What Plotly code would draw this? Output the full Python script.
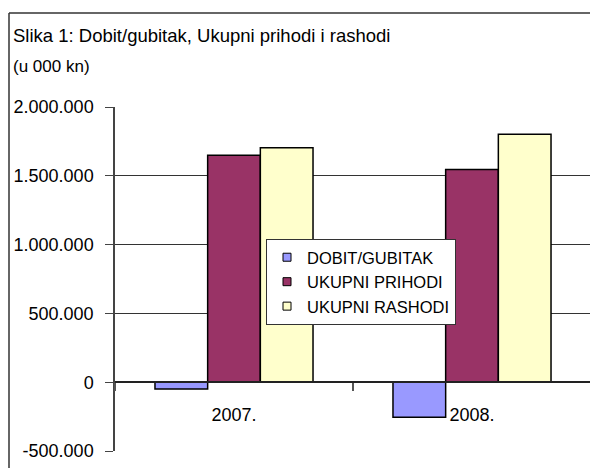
import plotly.graph_objects as go

categories = ["2007.", "2008."]
dobit = [-50000, -255000]
prihodi = [1650000, 1545000]
rashodi = [1703000, 1802000]
series_names = ["DOBIT/GUBITAK", "UKUPNI PRIHODI", "UKUPNI RASHODI"]
colors = ["#9999FF", "#993366", "#FFFFCC"]
y_ticks = [-500000, 0, 500000, 1000000, 1500000, 2000000]
y_tick_labels = ["-500.000", "0", "500.000", "1.000.000", "1.500.000", "2.000.000"]
title_text = "Slika 1: Dobit/gubitak, Ukupni prihodi i rashodi"
unit_text = "(u 000 kn)"

FONT = "Liberation Sans, Arial, sans-serif"

W, H = 590, 468
L, R, T, B = 115, 0, 107, 17
pw, ph = W - L - R, H - T - B

def px_x(x):
    return (x - L) / pw

def px_y(y):
    return (H - B - y) / ph

fig = go.Figure()
for name, vals, col in zip(series_names, [dobit, prihodi, rashodi], colors):
    fig.add_trace(go.Bar(
        x=categories, y=vals, name=name,
        marker=dict(color=col, line=dict(color="black", width=1.5)),
        showlegend=False,
    ))
for name, col in zip(series_names, colors):
    fig.add_trace(go.Scatter(
        x=[None], y=[None], mode="markers", name=name,
        marker=dict(symbol="square", size=8, color=col,
                    line=dict(color="black", width=1)),
    ))

fig.update_layout(
    width=W, height=H,
    margin=dict(l=L, r=R, t=T, b=B, pad=0),
    paper_bgcolor="white", plot_bgcolor="white",
    barmode="group", bargap=0.336, bargroupgap=0,
    font=dict(family=FONT, size=18, color="black"),
    legend=dict(
        x=px_x(266), y=px_y(239), xanchor="left", yanchor="top",
        bgcolor="white", bordercolor="#333333", borderwidth=1,
        font=dict(family=FONT, size=16.5, color="black"),
        tracegroupgap=0,
        entrywidth=165, entrywidthmode="pixels",
    ),
    xaxis=dict(
        type="category",
        range=[-0.5, -0.5 + pw / 238.0],
        anchor="free", position=0.2,
        showline=True, linecolor="#222222", linewidth=1.5,
        ticks="outside", tickson="boundaries", ticklen=8, tickcolor="#555555", tickwidth=1.5,
        ticklabelstandoff=16,
        showgrid=False, zeroline=False,
        tickfont=dict(family=FONT, size=18, color="black"),
    ),
    yaxis=dict(
        range=[-500000, 2000000],
        tickmode="array", tickvals=y_ticks, ticktext=y_tick_labels,
        showline=True, linecolor="#444444", linewidth=1.5,
        ticks="outside", ticklen=8, tickcolor="#444444", tickwidth=1,
        ticklabelstandoff=8,
        showgrid=True, gridcolor="#333333", gridwidth=1,
        zeroline=False,
        tickfont=dict(family=FONT, size=18, color="black"),
    ),
    annotations=[
        dict(text=title_text, xref="paper", yref="paper", x=px_x(11), y=px_y(35),
             xanchor="left", yanchor="middle", showarrow=False,
             font=dict(family=FONT, size=18.5, color="black")),
        dict(text=unit_text, xref="paper", yref="paper", x=px_x(11), y=px_y(66),
             xanchor="left", yanchor="middle", showarrow=False,
             font=dict(family=FONT, size=17, color="black")),
    ],
    shapes=[
        dict(type="line", xref="paper", yref="paper", x0=px_x(9), x1=px_x(9),
             y0=px_y(13), y1=px_y(480), line=dict(color="#333333", width=1.5)),
        dict(type="line", xref="paper", yref="paper", x0=px_x(9), x1=px_x(600),
             y0=px_y(13), y1=px_y(13), line=dict(color="#333333", width=1.5)),
    ],
)

fig.write_html(
    "out.html",
    config={"displayModeBar": False},
    post_script="document.body.style.margin='0';document.body.style.overflow='hidden';",
)
